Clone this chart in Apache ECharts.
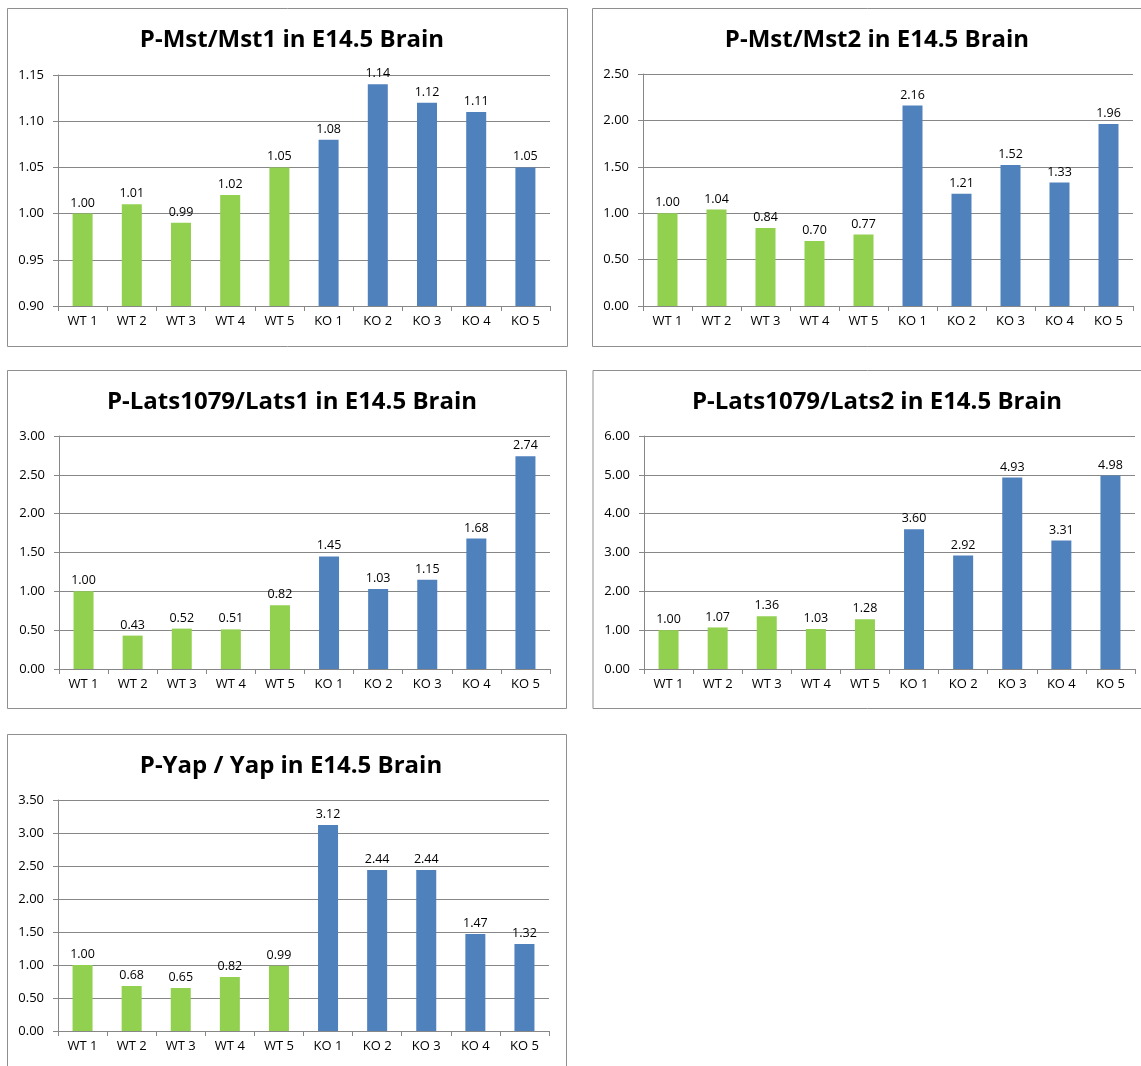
<!DOCTYPE html>
<html>
<head>
<meta charset="utf-8">
<script src="https://cdn.jsdelivr.net/npm/echarts@6/dist/echarts.min.js"></script>
<style>
  html, body { margin: 0; padding: 0; background: #ffffff; }
  #chart { width: 1141px; height: 1066px; }
</style>
</head>
<body>
<div id="chart"></div>
<script>
// Sample labels shared by every panel
const samples = ['WT 1', 'WT 2', 'WT 3', 'WT 4', 'WT 5', 'KO 1', 'KO 2', 'KO 3', 'KO 4', 'KO 5'];

// Ratio values per panel
const mst1Values = [1.00, 1.01, 0.99, 1.02, 1.05, 1.08, 1.14, 1.12, 1.11, 1.05];
const mst2Values = [1.00, 1.04, 0.84, 0.70, 0.77, 2.16, 1.21, 1.52, 1.33, 1.96];
const lats1Values = [1.00, 0.43, 0.52, 0.51, 0.82, 1.45, 1.03, 1.15, 1.68, 2.74];
const lats2Values = [1.00, 1.07, 1.36, 1.03, 1.28, 3.60, 2.92, 4.93, 3.31, 4.98];
const yapValues = [1.00, 0.68, 0.65, 0.82, 0.99, 3.12, 2.44, 2.44, 1.47, 1.32];

// Panel titles
const titles = [
  'P-Mst/Mst1 in E14.5 Brain',
  'P-Mst/Mst2 in E14.5 Brain',
  'P-Lats1079/Lats1 in E14.5 Brain',
  'P-Lats1079/Lats2 in E14.5 Brain',
  'P-Yap / Yap in E14.5 Brain'
];

// Value axis ranges [min, max, interval]
const axisRanges = [
  [0.90, 1.15, 0.05],
  [0, 2.5, 0.5],
  [0, 3.0, 0.5],
  [0, 6.0, 1.0],
  [0, 3.5, 0.5]
];

const panelValues = [mst1Values, mst2Values, lats1Values, lats2Values, yapValues];

// Layout of each panel: frame box and plot area
const panels = [
  { box: [7.5, 8.5, 560, 338],   grid: { left: 58,  top: 75,  width: 492, height: 231 }, titleX: 287, titleY: 23 },
  { box: [592.5, 8.5, 560, 338], grid: { left: 643, top: 74,  width: 490, height: 232 }, titleX: 872, titleY: 23 },
  { box: [7.5, 370.5, 559, 338], grid: { left: 59,  top: 436, width: 491, height: 233 }, titleX: 287, titleY: 385 },
  { box: [593, 370.5, 560, 338], grid: { left: 644, top: 436, width: 491, height: 233 }, titleX: 872, titleY: 385 },
  { box: [7.5, 734.5, 559, 340], grid: { left: 58,  top: 800, width: 491, height: 231 }, titleX: 286, titleY: 749 }
];

const GREEN = '#92D050';
const BLUE = '#4F81BD';
const LINE = '#878787';
const FONT = '"Open Sans", "Liberation Sans", sans-serif';

const chart = echarts.init(document.getElementById('chart'), null, { renderer: 'canvas' });

const option = {
  animation: false,
  backgroundColor: '#ffffff',
  title: panels.map((p, i) => ({
    text: titles[i],
    left: p.titleX,
    top: p.titleY,
    textAlign: 'center',
    textStyle: { fontFamily: FONT, fontWeight: 'bold', fontSize: 24, color: '#000' }
  })),
  graphic: panels.map(p => ({
    type: 'rect',
    shape: { x: p.box[0], y: p.box[1], width: p.box[2], height: p.box[3] },
    style: { fill: 'none', stroke: '#8f8f8f', lineWidth: 1 },
    silent: true
  })),
  grid: panels.map(p => Object.assign({ containLabel: false }, p.grid)),
  xAxis: panels.map((p, i) => ({
    type: 'category',
    gridIndex: i,
    data: samples,
    boundaryGap: true,
    axisLine: { show: true, lineStyle: { color: LINE, width: 1 } },
    axisTick: { show: true, alignWithLabel: false, length: 5, lineStyle: { color: LINE } },
    axisLabel: { color: '#000', fontFamily: FONT, fontSize: 13, margin: 9, interval: 0 },
    splitLine: { show: false }
  })),
  yAxis: panels.map((p, i) => ({
    type: 'value',
    gridIndex: i,
    min: axisRanges[i][0],
    max: axisRanges[i][1],
    interval: axisRanges[i][2],
    axisLine: { show: true, lineStyle: { color: LINE, width: 1 } },
    axisTick: { show: true, length: 5, lineStyle: { color: LINE } },
    axisLabel: {
      color: '#000', fontFamily: FONT, fontSize: 13, margin: 14,
      formatter: v => v.toFixed(2)
    },
    splitLine: { show: true, lineStyle: { color: LINE, width: 1 } }
  })),
  series: panels.map((p, i) => ({
    type: 'bar',
    xAxisIndex: i,
    yAxisIndex: i,
    barWidth: 20,
    data: panelValues[i].map((v, k) => ({
      value: v,
      itemStyle: { color: k < 5 ? GREEN : BLUE }
    })),
    label: {
      show: true,
      position: 'top',
      distance: 4,
      color: '#000',
      fontFamily: FONT,
      fontSize: 12.5,
      formatter: d => d.value.toFixed(2)
    }
  }))
};

chart.setOption(option);
</script>
</body>
</html>
